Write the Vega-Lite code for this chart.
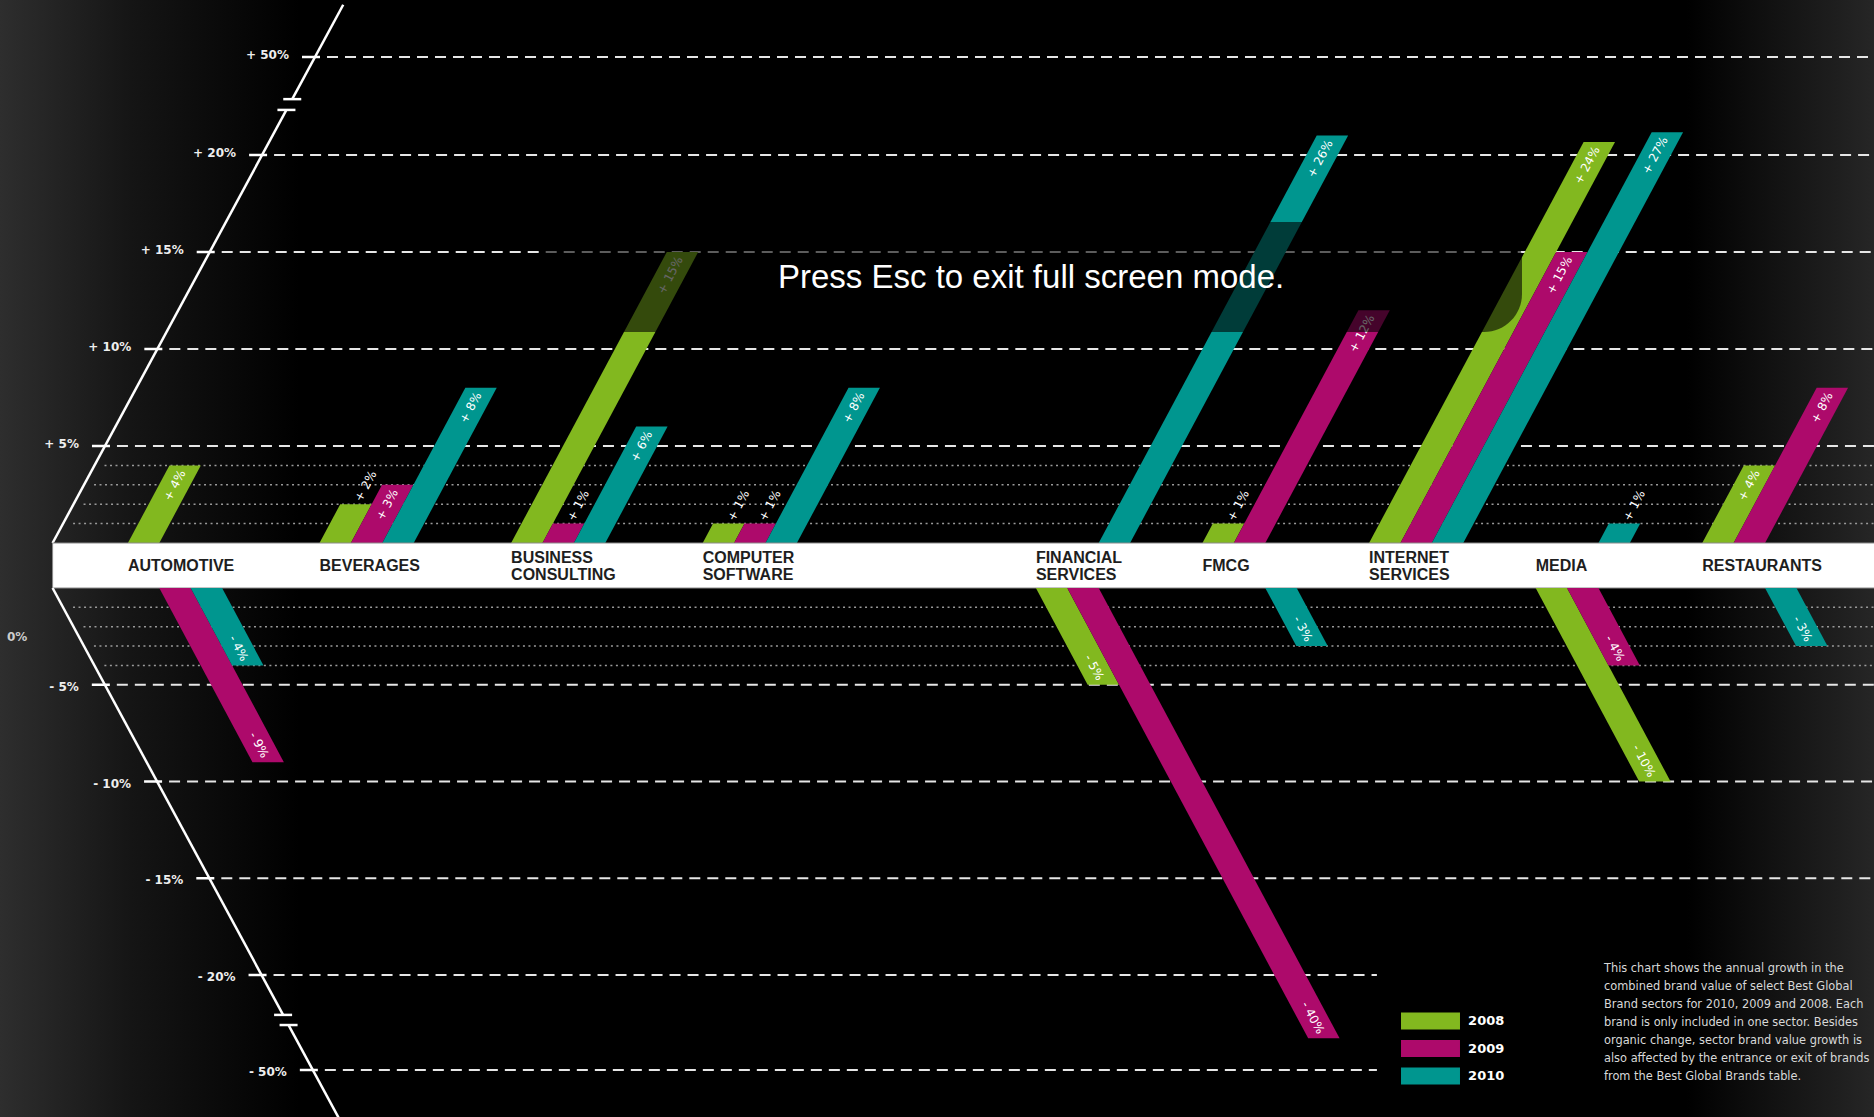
{
  "$schema": "https://vega.github.io/schema/vega-lite/v6.json",
  "width": 1874,
  "height": 1117,
  "autosize": "none",
  "padding": 0,
  "background": "#000000",
  "config": {"view": {"stroke": null}},
  "datasets": {
    "growth": [
      {"sector": "AUTOMOTIVE", "year": 2008, "value": 4},
      {"sector": "AUTOMOTIVE", "year": 2009, "value": -9},
      {"sector": "AUTOMOTIVE", "year": 2010, "value": -4},
      {"sector": "BEVERAGES", "year": 2008, "value": 2},
      {"sector": "BEVERAGES", "year": 2009, "value": 3},
      {"sector": "BEVERAGES", "year": 2010, "value": 8},
      {"sector": "BUSINESS CONSULTING", "year": 2008, "value": 15},
      {"sector": "BUSINESS CONSULTING", "year": 2009, "value": 1},
      {"sector": "BUSINESS CONSULTING", "year": 2010, "value": 6},
      {"sector": "COMPUTER SOFTWARE", "year": 2008, "value": 1},
      {"sector": "COMPUTER SOFTWARE", "year": 2009, "value": 1},
      {"sector": "COMPUTER SOFTWARE", "year": 2010, "value": 8},
      {"sector": "FINANCIAL SERVICES", "year": 2008, "value": -5},
      {"sector": "FINANCIAL SERVICES", "year": 2009, "value": -40},
      {"sector": "FINANCIAL SERVICES", "year": 2010, "value": 26},
      {"sector": "FMCG", "year": 2008, "value": 1},
      {"sector": "FMCG", "year": 2009, "value": 12},
      {"sector": "FMCG", "year": 2010, "value": -3},
      {"sector": "INTERNET SERVICES", "year": 2008, "value": 24},
      {"sector": "INTERNET SERVICES", "year": 2009, "value": 15},
      {"sector": "INTERNET SERVICES", "year": 2010, "value": 27},
      {"sector": "MEDIA", "year": 2008, "value": -10},
      {"sector": "MEDIA", "year": 2009, "value": -4},
      {"sector": "MEDIA", "year": 2010, "value": 1},
      {"sector": "RESTAURANTS", "year": 2008, "value": 4},
      {"sector": "RESTAURANTS", "year": 2009, "value": 8},
      {"sector": "RESTAURANTS", "year": 2010, "value": -3}
    ],
    "ticks": [{"t": 50}, {"t": 20}, {"t": 15}, {"t": 10}, {"t": 5}, {"t": -5}, {"t": -10}, {"t": -15}, {"t": -20}, {"t": -50}],
    "minor": [{"t": 1}, {"t": 2}, {"t": 3}, {"t": 4}, {"t": -1}, {"t": -2}, {"t": -3}, {"t": -4}],
    "axisPath": [
      {"seg": "up1", "t": 0}, {"seg": "up1", "t": 33.8},
      {"seg": "up2", "t": 37.1}, {"seg": "up2", "t": 66},
      {"seg": "dn1", "t": 0}, {"seg": "dn1", "t": -32.6},
      {"seg": "dn2", "t": -35.8}, {"seg": "dn2", "t": -66}
    ],
    "breaks": [{"t": 33.8}, {"t": 37.1}, {"t": -32.6}, {"t": -35.8}]
  },
  "layer": [
    {
      "data": {"values": [{}]},
      "mark": {
        "type": "rect",
        "fill": {
          "gradient": "linear", "x1": 0, "x2": 1, "y1": 0, "y2": 0,
          "stops": [
            {"offset": 0, "color": "#2e2e2e"},
            {"offset": 0.07, "color": "#151515"},
            {"offset": 0.16, "color": "#000000"},
            {"offset": 0.9, "color": "#000000"},
            {"offset": 1, "color": "#262626"}
          ]
        }
      },
      "encoding": {}
    },
    {
      "layer": [
        {
          "data": {"name": "minor"},
          "transform": [
            {"filter": "datum.t > 0"},
            {"calculate": "abs(datum.t) <= 20 ? abs(datum.t) * (datum.t >= 0 ? 19.4 : 19.35) : (datum.t >= 0 ? 388 + (abs(datum.t) - 20) * 3.2667 : 387 + (abs(datum.t) - 20) * 3.1667)", "as": "h"},
            {"calculate": "-0.393 + 0.002818 * datum.h + 0.0522", "as": "gx"}
          ],
          "mark": {"type": "rule", "stroke": "#9a9a9a", "strokeWidth": 1.5, "strokeDash": [2, 3.5]},
          "encoding": {
            "x": {"field": "gx", "type": "quantitative", "scale": {"domain": [-0.6675, 3, 10.031], "range": [0, 702.7, 1874], "nice": false, "zero": false}, "axis": null},
            "x2": {"datum": 10.1},
            "y": {"field": "t", "type": "quantitative", "scale": {"domain": [0, 20, 50], "range": [543, 155, 57], "nice": false, "zero": false}, "axis": null}
          }
        },
        {
          "data": {"name": "ticks"},
          "transform": [
            {"filter": "datum.t > 0"},
            {"calculate": "abs(datum.t) <= 20 ? abs(datum.t) * (datum.t >= 0 ? 19.4 : 19.35) : (datum.t >= 0 ? 388 + (abs(datum.t) - 20) * 3.2667 : 387 + (abs(datum.t) - 20) * 3.1667)", "as": "h"},
            {"calculate": "-0.393 + 0.002818 * datum.h", "as": "xl"},
            {"calculate": "datum.xl - 0.0679", "as": "k1"},
            {"calculate": "datum.xl + 0.0261", "as": "k2"},
            {"calculate": "datum.xl + 0.0626", "as": "g1"},
            {"calculate": "datum.t <= -20 ? 7.047 : 10.1", "as": "g2"},
            {"calculate": "datum.xl - 0.1357", "as": "lx"},
            {"calculate": "(datum.t > 0 ? '+ ' : '- ') + abs(datum.t) + '%'", "as": "lab"}
          ],
          "layer": [
            {
              "mark": {"type": "rule", "stroke": "#e6e6e6", "strokeWidth": 2, "strokeDash": [11, 7]},
              "encoding": {
                "x": {"field": "g1", "type": "quantitative", "scale": {"domain": [-0.6675, 3, 10.031], "range": [0, 702.7, 1874], "nice": false, "zero": false}, "axis": null},
                "x2": {"field": "g2"},
                "y": {"field": "t", "type": "quantitative", "scale": {"domain": [0, 20, 50], "range": [543, 155, 57], "nice": false, "zero": false}, "axis": null}
              }
            },
            {
              "mark": {"type": "rule", "stroke": "#ffffff", "strokeWidth": 2.5},
              "encoding": {
                "x": {"field": "k1", "type": "quantitative", "scale": {"domain": [-0.6675, 3, 10.031], "range": [0, 702.7, 1874], "nice": false, "zero": false}, "axis": null},
                "x2": {"field": "k2"},
                "y": {"field": "t", "type": "quantitative", "scale": {"domain": [0, 20, 50], "range": [543, 155, 57], "nice": false, "zero": false}, "axis": null}
              }
            },
            {
              "mark": {"type": "text", "align": "right", "baseline": "middle", "dy": -2, "font": "DejaVu Sans", "fontSize": 12, "fontWeight": "bold", "fill": "#eeeeee"},
              "encoding": {
                "x": {"field": "lx", "type": "quantitative", "scale": {"domain": [-0.6675, 3, 10.031], "range": [0, 702.7, 1874], "nice": false, "zero": false}, "axis": null},
                "y": {"field": "t", "type": "quantitative", "scale": {"domain": [0, 20, 50], "range": [543, 155, 57], "nice": false, "zero": false}, "axis": null},
                "text": {"field": "lab"}
              }
            }
          ]
        },
        {
          "data": {"name": "axisPath"},
          "transform": [
            {"filter": "indexof(datum.seg, 'up') == 0"},
            {"calculate": "abs(datum.t) <= 20 ? abs(datum.t) * (datum.t >= 0 ? 19.4 : 19.35) : (datum.t >= 0 ? 388 + (abs(datum.t) - 20) * 3.2667 : 387 + (abs(datum.t) - 20) * 3.1667)", "as": "h"},
            {"calculate": "-0.393 + 0.002818 * datum.h", "as": "xl"}
          ],
          "mark": {"type": "line", "stroke": "#ffffff", "strokeWidth": 2.5},
          "encoding": {
            "x": {"field": "xl", "type": "quantitative", "scale": {"domain": [-0.6675, 3, 10.031], "range": [0, 702.7, 1874], "nice": false, "zero": false}, "axis": null},
            "y": {"field": "t", "type": "quantitative", "scale": {"domain": [0, 20, 50], "range": [543, 155, 57], "nice": false, "zero": false}, "axis": null},
            "detail": {"field": "seg"}
          }
        },
        {
          "data": {"name": "breaks"},
          "transform": [
            {"filter": "datum.t > 0"},
            {"calculate": "abs(datum.t) <= 20 ? abs(datum.t) * (datum.t >= 0 ? 19.4 : 19.35) : (datum.t >= 0 ? 388 + (abs(datum.t) - 20) * 3.2667 : 387 + (abs(datum.t) - 20) * 3.1667)", "as": "h"},
            {"calculate": "-0.393 + 0.002818 * datum.h - 0.047", "as": "b1"},
            {"calculate": "datum.b1 + 0.094", "as": "b2"}
          ],
          "mark": {"type": "rule", "stroke": "#ffffff", "strokeWidth": 2.5},
          "encoding": {
            "x": {"field": "b1", "type": "quantitative", "scale": {"domain": [-0.6675, 3, 10.031], "range": [0, 702.7, 1874], "nice": false, "zero": false}, "axis": null},
            "x2": {"field": "b2"},
            "y": {"field": "t", "type": "quantitative", "scale": {"domain": [0, 20, 50], "range": [543, 155, 57], "nice": false, "zero": false}, "axis": null}
          }
        },
        {
          "data": {"name": "growth"},
          "transform": [
            {"filter": "datum.value > 0"},
            {"calculate": "indexof(['AUTOMOTIVE','BEVERAGES','BUSINESS CONSULTING','COMPUTER SOFTWARE','FINANCIAL SERVICES','FMCG','INTERNET SERVICES','MEDIA','RESTAURANTS'], datum.sector)", "as": "i"},
            {"calculate": "datum.i < 3 ? 191.6 : 166.6", "as": "k"},
            {"calculate": "(datum.i < 4 ? datum.i : datum.i + 1) + (datum.year - 2008) * 31.4 / datum.k", "as": "base"},
            {"calculate": "0", "as": "zero"},
            {"fold": ["zero", "value"], "as": ["end", "t"]},
            {"calculate": "abs(datum.t) <= 20 ? abs(datum.t) * (datum.t >= 0 ? 19.4 : 19.35) : (datum.t >= 0 ? 388 + (abs(datum.t) - 20) * 3.2667 : 387 + (abs(datum.t) - 20) * 3.1667)", "as": "h"},
            {"calculate": "datum.base + 0.535 * datum.h / datum.k", "as": "bx"},
            {"calculate": "datum.bx + 31.4 / datum.k", "as": "bx2"}
          ],
          "mark": {"type": "area", "orient": "horizontal", "opacity": 1},
          "encoding": {
            "x": {"field": "bx", "type": "quantitative", "stack": null, "scale": {"domain": [-0.6675, 3, 10.031], "range": [0, 702.7, 1874], "nice": false, "zero": false}, "axis": null},
            "x2": {"field": "bx2"},
            "y": {"field": "t", "type": "quantitative", "scale": {"domain": [0, 20, 50], "range": [543, 155, 57], "nice": false, "zero": false}, "axis": null},
            "color": {
              "field": "year", "type": "nominal",
              "scale": {"domain": [2008, 2009, 2010], "range": ["#82b81f", "#ad0a6b", "#00968f"]},
              "legend": {"orient": "none", "legendX": 1417, "legendY": 1007.6, "title": null, "symbolType": "M-2.2,-0.634H2.2V0.634H-2.2Z", "symbolSize": 719, "symbolStrokeWidth": 0, "symbolOpacity": 1, "labelFont": "DejaVu Sans", "labelFontSize": 13, "labelFontWeight": "bold", "labelColor": "#ffffff", "labelOffset": 24.1, "rowPadding": 4.4, "padding": 0}
            },
            "detail": {"field": "sector"}
          }
        },
        {
          "data": {"name": "growth"},
          "transform": [
            {"filter": "datum.value >= 3"},
            {"calculate": "indexof(['AUTOMOTIVE','BEVERAGES','BUSINESS CONSULTING','COMPUTER SOFTWARE','FINANCIAL SERVICES','FMCG','INTERNET SERVICES','MEDIA','RESTAURANTS'], datum.sector)", "as": "i"},
            {"calculate": "datum.i < 3 ? 191.6 : 166.6", "as": "k"},
            {"calculate": "(datum.i < 4 ? datum.i : datum.i + 1) + (datum.year - 2008) * 31.4 / datum.k", "as": "base"},
            {"calculate": "datum.value", "as": "t"},
            {"calculate": "abs(datum.t) <= 20 ? abs(datum.t) * (datum.t >= 0 ? 19.4 : 19.35) : (datum.t >= 0 ? 388 + (abs(datum.t) - 20) * 3.2667 : 387 + (abs(datum.t) - 20) * 3.1667)", "as": "h"},
            {"calculate": "datum.base + (15.7 + 0.535 * datum.h) / datum.k", "as": "lx"},
            {"calculate": "'+ ' + datum.value + '%'", "as": "lab"}
          ],
          "mark": {"type": "text", "angle": 298, "align": "right", "baseline": "middle", "dx": -6, "font": "DejaVu Sans", "fontSize": 12, "fill": "#ffffff"},
          "encoding": {
            "x": {"field": "lx", "type": "quantitative", "scale": {"domain": [-0.6675, 3, 10.031], "range": [0, 702.7, 1874], "nice": false, "zero": false}, "axis": null},
            "y": {"field": "t", "type": "quantitative", "scale": {"domain": [0, 20, 50], "range": [543, 155, 57], "nice": false, "zero": false}, "axis": null},
            "text": {"field": "lab"}
          }
        },
        {
          "data": {"name": "growth"},
          "transform": [
            {"filter": "datum.value > 0 && datum.value < 3"},
            {"calculate": "indexof(['AUTOMOTIVE','BEVERAGES','BUSINESS CONSULTING','COMPUTER SOFTWARE','FINANCIAL SERVICES','FMCG','INTERNET SERVICES','MEDIA','RESTAURANTS'], datum.sector)", "as": "i"},
            {"calculate": "datum.i < 3 ? 191.6 : 166.6", "as": "k"},
            {"calculate": "(datum.i < 4 ? datum.i : datum.i + 1) + (datum.year - 2008) * 31.4 / datum.k", "as": "base"},
            {"calculate": "datum.value", "as": "t"},
            {"calculate": "abs(datum.t) * 19.4", "as": "h"},
            {"calculate": "datum.base + (15.7 + 0.535 * datum.h) / datum.k", "as": "lx"},
            {"calculate": "'+ ' + datum.value + '%'", "as": "lab"}
          ],
          "mark": {"type": "text", "angle": 298, "align": "left", "baseline": "middle", "dx": 4, "font": "DejaVu Sans", "fontSize": 12, "fill": "#ffffff"},
          "encoding": {
            "x": {"field": "lx", "type": "quantitative", "scale": {"domain": [-0.6675, 3, 10.031], "range": [0, 702.7, 1874], "nice": false, "zero": false}, "axis": null},
            "y": {"field": "t", "type": "quantitative", "scale": {"domain": [0, 20, 50], "range": [543, 155, 57], "nice": false, "zero": false}, "axis": null},
            "text": {"field": "lab"}
          }
        },
        {
          "data": {"values": [{}]},
          "mark": {"type": "rect", "fill": "#ffffff", "stroke": "#8a8a8a", "strokeWidth": 1},
          "encoding": {
            "x": {"datum": -0.393, "type": "quantitative", "scale": {"domain": [-0.6675, 3, 10.031], "range": [0, 702.7, 1874], "nice": false, "zero": false}, "axis": null},
            "x2": {"datum": 10.1},
            "y": {"datum": 0, "type": "quantitative", "scale": {"domain": [0, 20, 50], "range": [543, 155, 57], "nice": false, "zero": false}, "axis": null},
            "y2": {"datum": -2.32}
          }
        },
        {
          "data": {"name": "growth"},
          "transform": [
            {"filter": "datum.year == 2008 && indexof(datum.sector, ' ') < 0"},
            {"calculate": "indexof(['AUTOMOTIVE','BEVERAGES','BUSINESS CONSULTING','COMPUTER SOFTWARE','FINANCIAL SERVICES','FMCG','INTERNET SERVICES','MEDIA','RESTAURANTS'], datum.sector)", "as": "i"},
            {"calculate": "datum.i < 4 ? datum.i : datum.i + 1", "as": "slot"},
            {"calculate": "0", "as": "zero"}
          ],
          "mark": {"type": "text", "align": "left", "baseline": "middle", "dy": 22.5, "font": "Liberation Sans", "fontSize": 16, "fontWeight": "bold", "fill": "#1e1e1e"},
          "encoding": {
            "x": {"field": "slot", "type": "quantitative", "scale": {"domain": [-0.6675, 3, 10.031], "range": [0, 702.7, 1874], "nice": false, "zero": false}, "axis": null},
            "y": {"field": "zero", "type": "quantitative", "scale": {"domain": [0, 20, 50], "range": [543, 155, 57], "nice": false, "zero": false}, "axis": null},
            "text": {"field": "sector"}
          }
        },
        {
          "data": {"name": "growth"},
          "transform": [
            {"filter": "datum.year == 2008 && indexof(datum.sector, ' ') >= 0"},
            {"calculate": "indexof(['AUTOMOTIVE','BEVERAGES','BUSINESS CONSULTING','COMPUTER SOFTWARE','FINANCIAL SERVICES','FMCG','INTERNET SERVICES','MEDIA','RESTAURANTS'], datum.sector)", "as": "i"},
            {"calculate": "datum.i < 4 ? datum.i : datum.i + 1", "as": "slot"},
            {"calculate": "0", "as": "zero"}
          ],
          "mark": {"type": "text", "align": "left", "baseline": "middle", "dy": 15, "lineBreak": " ", "lineHeight": 17, "font": "Liberation Sans", "fontSize": 16, "fontWeight": "bold", "fill": "#1e1e1e"},
          "encoding": {
            "x": {"field": "slot", "type": "quantitative", "scale": {"domain": [-0.6675, 3, 10.031], "range": [0, 702.7, 1874], "nice": false, "zero": false}, "axis": null},
            "y": {"field": "zero", "type": "quantitative", "scale": {"domain": [0, 20, 50], "range": [543, 155, 57], "nice": false, "zero": false}, "axis": null},
            "text": {"field": "sector"}
          }
        },
        {
          "data": {"values": [{}]},
          "mark": {"type": "rect", "fill": "#000000", "opacity": 0.6, "cornerRadius": 38},
          "encoding": {
            "x": {"datum": 2.151, "type": "quantitative", "scale": {"domain": [-0.6675, 3, 10.031], "range": [0, 702.7, 1874], "nice": false, "zero": false}, "axis": null},
            "x2": {"datum": 7.918},
            "y": {"datum": 16.55, "type": "quantitative", "scale": {"domain": [0, 20, 50], "range": [543, 155, 57], "nice": false, "zero": false}, "axis": null},
            "y2": {"datum": 10.88}
          }
        },
        {
          "data": {"values": [{}]},
          "mark": {"type": "text", "align": "center", "baseline": "middle", "font": "Liberation Sans", "fontSize": 33, "fill": "#ffffff"},
          "encoding": {
            "x": {"datum": 4.971, "type": "quantitative", "scale": {"domain": [-0.6675, 3, 10.031], "range": [0, 702.7, 1874], "nice": false, "zero": false}, "axis": null},
            "y": {"datum": 13.66, "type": "quantitative", "scale": {"domain": [0, 20, 50], "range": [543, 155, 57], "nice": false, "zero": false}, "axis": null},
            "text": {"value": "Press Esc to exit full screen mode."}
          }
        }
      ]
    },
    {
      "layer": [
        {
          "data": {"name": "minor"},
          "transform": [
            {"filter": "datum.t < 0"},
            {"calculate": "abs(datum.t) <= 20 ? abs(datum.t) * (datum.t >= 0 ? 19.4 : 19.35) : (datum.t >= 0 ? 388 + (abs(datum.t) - 20) * 3.2667 : 387 + (abs(datum.t) - 20) * 3.1667)", "as": "h"},
            {"calculate": "-0.393 + 0.002818 * datum.h + 0.0522", "as": "gx"}
          ],
          "mark": {"type": "rule", "stroke": "#9a9a9a", "strokeWidth": 1.5, "strokeDash": [2, 3.5]},
          "encoding": {
            "x": {"field": "gx", "type": "quantitative", "scale": {"domain": [-0.6675, 3, 10.031], "range": [0, 702.7, 1874], "nice": false, "zero": false}, "axis": null},
            "x2": {"datum": 10.1},
            "y": {"field": "t", "type": "quantitative", "scale": {"domain": [-50, -20, 0], "range": [1070, 975, 588], "nice": false, "zero": false}, "axis": null}
          }
        },
        {
          "data": {"name": "ticks"},
          "transform": [
            {"filter": "datum.t < 0"},
            {"calculate": "abs(datum.t) <= 20 ? abs(datum.t) * (datum.t >= 0 ? 19.4 : 19.35) : (datum.t >= 0 ? 388 + (abs(datum.t) - 20) * 3.2667 : 387 + (abs(datum.t) - 20) * 3.1667)", "as": "h"},
            {"calculate": "-0.393 + 0.002818 * datum.h", "as": "xl"},
            {"calculate": "datum.xl - 0.0679", "as": "k1"},
            {"calculate": "datum.xl + 0.0261", "as": "k2"},
            {"calculate": "datum.xl + 0.0626", "as": "g1"},
            {"calculate": "datum.t <= -20 ? 7.047 : 10.1", "as": "g2"},
            {"calculate": "datum.xl - 0.1357", "as": "lx"},
            {"calculate": "(datum.t > 0 ? '+ ' : '- ') + abs(datum.t) + '%'", "as": "lab"}
          ],
          "layer": [
            {
              "mark": {"type": "rule", "stroke": "#e6e6e6", "strokeWidth": 2, "strokeDash": [11, 7]},
              "encoding": {
                "x": {"field": "g1", "type": "quantitative", "scale": {"domain": [-0.6675, 3, 10.031], "range": [0, 702.7, 1874], "nice": false, "zero": false}, "axis": null},
                "x2": {"field": "g2"},
                "y": {"field": "t", "type": "quantitative", "scale": {"domain": [-50, -20, 0], "range": [1070, 975, 588], "nice": false, "zero": false}, "axis": null}
              }
            },
            {
              "mark": {"type": "rule", "stroke": "#ffffff", "strokeWidth": 2.5},
              "encoding": {
                "x": {"field": "k1", "type": "quantitative", "scale": {"domain": [-0.6675, 3, 10.031], "range": [0, 702.7, 1874], "nice": false, "zero": false}, "axis": null},
                "x2": {"field": "k2"},
                "y": {"field": "t", "type": "quantitative", "scale": {"domain": [-50, -20, 0], "range": [1070, 975, 588], "nice": false, "zero": false}, "axis": null}
              }
            },
            {
              "mark": {"type": "text", "align": "right", "baseline": "middle", "dy": 2, "font": "DejaVu Sans", "fontSize": 12, "fontWeight": "bold", "fill": "#eeeeee"},
              "encoding": {
                "x": {"field": "lx", "type": "quantitative", "scale": {"domain": [-0.6675, 3, 10.031], "range": [0, 702.7, 1874], "nice": false, "zero": false}, "axis": null},
                "y": {"field": "t", "type": "quantitative", "scale": {"domain": [-50, -20, 0], "range": [1070, 975, 588], "nice": false, "zero": false}, "axis": null},
                "text": {"field": "lab"}
              }
            }
          ]
        },
        {
          "data": {"name": "axisPath"},
          "transform": [
            {"filter": "indexof(datum.seg, 'dn') == 0"},
            {"calculate": "abs(datum.t) <= 20 ? abs(datum.t) * (datum.t >= 0 ? 19.4 : 19.35) : (datum.t >= 0 ? 388 + (abs(datum.t) - 20) * 3.2667 : 387 + (abs(datum.t) - 20) * 3.1667)", "as": "h"},
            {"calculate": "-0.393 + 0.002818 * datum.h", "as": "xl"}
          ],
          "mark": {"type": "line", "stroke": "#ffffff", "strokeWidth": 2.5},
          "encoding": {
            "x": {"field": "xl", "type": "quantitative", "scale": {"domain": [-0.6675, 3, 10.031], "range": [0, 702.7, 1874], "nice": false, "zero": false}, "axis": null},
            "y": {"field": "t", "type": "quantitative", "scale": {"domain": [-50, -20, 0], "range": [1070, 975, 588], "nice": false, "zero": false}, "axis": null},
            "detail": {"field": "seg"}
          }
        },
        {
          "data": {"name": "breaks"},
          "transform": [
            {"filter": "datum.t < 0"},
            {"calculate": "abs(datum.t) <= 20 ? abs(datum.t) * (datum.t >= 0 ? 19.4 : 19.35) : (datum.t >= 0 ? 388 + (abs(datum.t) - 20) * 3.2667 : 387 + (abs(datum.t) - 20) * 3.1667)", "as": "h"},
            {"calculate": "-0.393 + 0.002818 * datum.h - 0.047", "as": "b1"},
            {"calculate": "datum.b1 + 0.094", "as": "b2"}
          ],
          "mark": {"type": "rule", "stroke": "#ffffff", "strokeWidth": 2.5},
          "encoding": {
            "x": {"field": "b1", "type": "quantitative", "scale": {"domain": [-0.6675, 3, 10.031], "range": [0, 702.7, 1874], "nice": false, "zero": false}, "axis": null},
            "x2": {"field": "b2"},
            "y": {"field": "t", "type": "quantitative", "scale": {"domain": [-50, -20, 0], "range": [1070, 975, 588], "nice": false, "zero": false}, "axis": null}
          }
        },
        {
          "data": {"name": "growth"},
          "transform": [
            {"filter": "datum.value < 0"},
            {"calculate": "indexof(['AUTOMOTIVE','BEVERAGES','BUSINESS CONSULTING','COMPUTER SOFTWARE','FINANCIAL SERVICES','FMCG','INTERNET SERVICES','MEDIA','RESTAURANTS'], datum.sector)", "as": "i"},
            {"calculate": "datum.i < 3 ? 191.6 : 166.6", "as": "k"},
            {"calculate": "(datum.i < 4 ? datum.i : datum.i + 1) + (datum.year - 2008) * 31.4 / datum.k", "as": "base"},
            {"calculate": "0", "as": "zero"},
            {"fold": ["zero", "value"], "as": ["end", "t"]},
            {"calculate": "abs(datum.t) <= 20 ? abs(datum.t) * (datum.t >= 0 ? 19.4 : 19.35) : (datum.t >= 0 ? 388 + (abs(datum.t) - 20) * 3.2667 : 387 + (abs(datum.t) - 20) * 3.1667)", "as": "h"},
            {"calculate": "datum.base + 0.535 * datum.h / datum.k", "as": "bx"},
            {"calculate": "datum.bx + 31.4 / datum.k", "as": "bx2"}
          ],
          "mark": {"type": "area", "orient": "horizontal", "opacity": 1},
          "encoding": {
            "x": {"field": "bx", "type": "quantitative", "stack": null, "scale": {"domain": [-0.6675, 3, 10.031], "range": [0, 702.7, 1874], "nice": false, "zero": false}, "axis": null},
            "x2": {"field": "bx2"},
            "y": {"field": "t", "type": "quantitative", "scale": {"domain": [-50, -20, 0], "range": [1070, 975, 588], "nice": false, "zero": false}, "axis": null},
            "color": {
              "field": "year", "type": "nominal",
              "scale": {"domain": [2008, 2009, 2010], "range": ["#82b81f", "#ad0a6b", "#00968f"]},
              "legend": {"orient": "none", "legendX": 1417, "legendY": 1007.6, "title": null, "symbolType": "M-2.2,-0.634H2.2V0.634H-2.2Z", "symbolSize": 719, "symbolStrokeWidth": 0, "symbolOpacity": 1, "labelFont": "DejaVu Sans", "labelFontSize": 13, "labelFontWeight": "bold", "labelColor": "#ffffff", "labelOffset": 24.1, "rowPadding": 4.4, "padding": 0}
            },
            "detail": {"field": "sector"}
          }
        },
        {
          "data": {"name": "growth"},
          "transform": [
            {"filter": "datum.value < 0"},
            {"calculate": "indexof(['AUTOMOTIVE','BEVERAGES','BUSINESS CONSULTING','COMPUTER SOFTWARE','FINANCIAL SERVICES','FMCG','INTERNET SERVICES','MEDIA','RESTAURANTS'], datum.sector)", "as": "i"},
            {"calculate": "datum.i < 3 ? 191.6 : 166.6", "as": "k"},
            {"calculate": "(datum.i < 4 ? datum.i : datum.i + 1) + (datum.year - 2008) * 31.4 / datum.k", "as": "base"},
            {"calculate": "datum.value", "as": "t"},
            {"calculate": "abs(datum.t) <= 20 ? abs(datum.t) * (datum.t >= 0 ? 19.4 : 19.35) : (datum.t >= 0 ? 388 + (abs(datum.t) - 20) * 3.2667 : 387 + (abs(datum.t) - 20) * 3.1667)", "as": "h"},
            {"calculate": "datum.base + (15.7 + 0.535 * datum.h) / datum.k", "as": "lx"},
            {"calculate": "'- ' + abs(datum.value) + '%'", "as": "lab"}
          ],
          "mark": {"type": "text", "angle": 62, "align": "right", "baseline": "middle", "dx": -6, "font": "DejaVu Sans", "fontSize": 12, "fill": "#ffffff"},
          "encoding": {
            "x": {"field": "lx", "type": "quantitative", "scale": {"domain": [-0.6675, 3, 10.031], "range": [0, 702.7, 1874], "nice": false, "zero": false}, "axis": null},
            "y": {"field": "t", "type": "quantitative", "scale": {"domain": [-50, -20, 0], "range": [1070, 975, 588], "nice": false, "zero": false}, "axis": null},
            "text": {"field": "lab"}
          }
        },
        {
          "data": {"values": [{}]},
          "mark": {"type": "text", "align": "left", "baseline": "middle", "font": "DejaVu Sans", "fontSize": 12, "fontWeight": "bold", "fill": "#cccccc"},
          "encoding": {
            "x": {"datum": -0.631, "type": "quantitative", "scale": {"domain": [-0.6675, 3, 10.031], "range": [0, 702.7, 1874], "nice": false, "zero": false}, "axis": null},
            "y": {"datum": -2.53, "type": "quantitative", "scale": {"domain": [-50, -20, 0], "range": [1070, 975, 588], "nice": false, "zero": false}, "axis": null},
            "text": {"value": "0%"}
          }
        },
        {
          "data": {"values": [{}]},
          "mark": {"type": "text", "align": "left", "baseline": "alphabetic", "lineHeight": 18, "font": "DejaVu Sans", "fontSize": 11.4, "fill": "#d8d8d8"},
          "encoding": {
            "x": {"datum": 8.41, "type": "quantitative", "scale": {"domain": [-0.6675, 3, 10.031], "range": [0, 702.7, 1874], "nice": false, "zero": false}, "axis": null},
            "y": {"datum": -19.84, "type": "quantitative", "scale": {"domain": [-50, -20, 0], "range": [1070, 975, 588], "nice": false, "zero": false}, "axis": null},
            "text": {"value": ["This chart shows the annual growth in the", "combined brand value of select Best Global", "Brand sectors for 2010, 2009 and 2008. Each", "brand is only included in one sector. Besides", "organic change, sector brand value growth is", "also affected by the entrance or exit of brands", "from the Best Global Brands table."]}
          }
        }
      ]
    }
  ],
  "resolve": {"scale": {"y": "independent"}}
}
